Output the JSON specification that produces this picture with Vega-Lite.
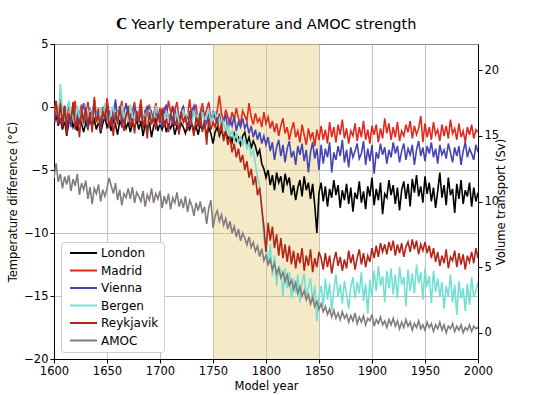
{
"$schema": "https://vega.github.io/schema/vega-lite/v6.json",
"width": 424, "height": 315,
"autosize": "none",
"padding": {"left": 54, "top": 44, "right": 55, "bottom": 36},
"config": {
 "font": "DejaVu Sans",
 "view": {"stroke": "black", "strokeWidth": 1},
 "axis": {"labelFont": "DejaVu Sans", "titleFont": "DejaVu Sans", "labelFontSize": 11.5, "titleFontSize": 11.5, "titleFontWeight": "normal", "labelColor": "black", "titleColor": "black", "tickColor": "black", "domainColor": "black", "tickSize": 4, "gridColor": "#b0b0b0", "gridWidth": 0.8, "labelPadding": 2, "labelFlush": false},
 "legend": {"labelFont": "DejaVu Sans", "labelFontSize": 12, "labelColor": "black"}
},
"title": {"text": "𝗖 Yearly temperature and AMOC strength", "fontSize": 14.5, "fontWeight": "normal", "anchor": "middle", "offset": 6, "color": "black", "font": "DejaVu Sans"},
"data": {"values": [
{"yr":1600,"L":-1.4,"M":-0.3,"V":-1.2,"B":-0.5,"R":-0.8,"A":11.8},
{"yr":1602,"L":-0.6,"M":0.4,"V":-0.4,"B":0.2,"R":0.5,"A":12.9},
{"yr":1604,"L":-1.5,"M":-1.0,"V":-0.2,"B":-1.2,"R":-1.4,"A":11.5},
{"yr":1606,"L":-0.9,"M":0.6,"V":-1.3,"B":1.8,"R":0.3,"A":12.1},
{"yr":1608,"L":-1.8,"M":-1.4,"V":-0.6,"B":-0.4,"R":-1.6,"A":11.0},
{"yr":1610,"L":-1.0,"M":-0.2,"V":0.1,"B":-1.0,"R":0.1,"A":11.9},
{"yr":1612,"L":-2.3,"M":-0.9,"V":-1.5,"B":-0.3,"R":-2.2,"A":11.3},
{"yr":1614,"L":-1.2,"M":0.3,"V":-0.7,"B":0.5,"R":-0.5,"A":12.0},
{"yr":1616,"L":-0.7,"M":-1.2,"V":-1.6,"B":-1.1,"R":-1.1,"A":10.8},
{"yr":1618,"L":-1.6,"M":-0.5,"V":0.2,"B":-0.6,"R":0.4,"A":11.7},
{"yr":1620,"L":-1.1,"M":0.5,"V":-0.9,"B":-1.4,"R":-1.8,"A":11.2},
{"yr":1622,"L":-1.9,"M":-1.5,"V":-0.3,"B":0.1,"R":-0.7,"A":12.1},
{"yr":1624,"L":-0.8,"M":-0.6,"V":-1.4,"B":-0.9,"R":-2.4,"A":10.5},
{"yr":1626,"L":-1.3,"M":0.2,"V":-0.5,"B":-0.2,"R":-0.2,"A":11.4},
{"yr":1628,"L":-2.0,"M":-1.1,"V":0.3,"B":-1.5,"R":-1.3,"A":10.9},
{"yr":1630,"L":-1.2,"M":-0.4,"V":-1.0,"B":0.2,"R":0.0,"A":11.6},
{"yr":1632,"L":-1.7,"M":0.4,"V":-1.7,"B":-0.8,"R":-1.5,"A":10.2},
{"yr":1634,"L":-0.9,"M":-0.8,"V":-0.1,"B":-0.3,"R":-0.4,"A":11.1},
{"yr":1636,"L":-1.5,"M":-1.6,"V":-0.8,"B":-1.2,"R":-2.0,"A":9.8},
{"yr":1638,"L":-1.0,"M":0.8,"V":0.5,"B":0.4,"R":0.6,"A":11.0},
{"yr":1640,"L":-1.8,"M":-0.7,"V":-1.2,"B":-0.7,"R":-1.2,"A":10.6},
{"yr":1642,"L":-1.1,"M":-0.1,"V":-0.4,"B":-1.3,"R":-0.6,"A":11.3},
{"yr":1644,"L":-2.1,"M":-1.3,"V":-1.8,"B":-0.1,"R":-1.9,"A":10.0},
{"yr":1646,"L":-1.3,"M":0.0,"V":-0.6,"B":-0.9,"R":-0.3,"A":10.9},
{"yr":1648,"L":-0.8,"M":-0.9,"V":0.2,"B":0.3,"R":-1.0,"A":10.4},
{"yr":1650,"L":-1.6,"M":0.7,"V":-1.1,"B":-0.6,"R":0.2,"A":11.0},
{"yr":1652,"L":-1.2,"M":-0.5,"V":-0.3,"B":-1.4,"R":-1.7,"A":11.8},
{"yr":1654,"L":-1.9,"M":-1.2,"V":-1.5,"B":-0.2,"R":-0.8,"A":11.2},
{"yr":1656,"L":-1.0,"M":-0.2,"V":-0.8,"B":0.0,"R":-2.3,"A":10.6},
{"yr":1658,"L":-1.4,"M":0.3,"V":0.6,"B":-1.1,"R":-0.4,"A":11.4},
{"yr":1660,"L":-2.2,"M":-1.0,"V":-0.9,"B":-0.5,"R":-1.4,"A":10.1},
{"yr":1662,"L":-1.1,"M":-0.4,"V":-0.2,"B":-1.0,"R":0.1,"A":10.9},
{"yr":1664,"L":-1.5,"M":0.5,"V":-1.6,"B":0.1,"R":-1.1,"A":9.7},
{"yr":1666,"L":-0.9,"M":-1.3,"V":-0.4,"B":-0.8,"R":-1.9,"A":10.6},
{"yr":1668,"L":-1.7,"M":-0.6,"V":0.3,"B":-0.4,"R":-0.6,"A":10.3},
{"yr":1670,"L":-1.2,"M":0.1,"V":-1.0,"B":-1.2,"R":-0.2,"A":11.0},
{"yr":1672,"L":-2.0,"M":-0.8,"V":-0.7,"B":0.2,"R":-1.6,"A":10.2},
{"yr":1674,"L":-1.3,"M":-0.3,"V":-1.4,"B":-0.7,"R":-0.9,"A":11.1},
{"yr":1676,"L":-1.6,"M":0.4,"V":0.0,"B":-1.0,"R":-2.1,"A":9.9},
{"yr":1678,"L":-1.0,"M":-1.1,"V":-0.6,"B":-0.3,"R":-0.3,"A":10.7},
{"yr":1680,"L":-1.8,"M":-0.5,"V":-1.2,"B":-0.9,"R":-1.2,"A":10.4},
{"yr":1682,"L":-1.1,"M":0.6,"V":-0.3,"B":0.0,"R":0.2,"A":10.0},
{"yr":1684,"L":-2.3,"M":-1.4,"V":-1.7,"B":-1.3,"R":-1.7,"A":10.8},
{"yr":1686,"L":-1.4,"M":-0.2,"V":-0.5,"B":-0.6,"R":-0.7,"A":9.6},
{"yr":1688,"L":-1.7,"M":-0.9,"V":0.1,"B":-1.1,"R":-2.5,"A":10.5},
{"yr":1690,"L":-1.2,"M":0.2,"V":-0.9,"B":-0.2,"R":-0.4,"A":10.1},
{"yr":1692,"L":-2.4,"M":-1.2,"V":-0.4,"B":-0.8,"R":-1.4,"A":11.0},
{"yr":1694,"L":-1.5,"M":-0.6,"V":-1.3,"B":-1.2,"R":-0.8,"A":9.9},
{"yr":1696,"L":-1.0,"M":0.3,"V":-0.2,"B":0.1,"R":-1.8,"A":10.6},
{"yr":1698,"L":-1.9,"M":-0.7,"V":-1.0,"B":-0.7,"R":-0.5,"A":10.2},
{"yr":1700,"L":-1.3,"M":-0.1,"V":-0.6,"B":-1.4,"R":-1.3,"A":10.8},
{"yr":1702,"L":-1.8,"M":-1.3,"V":-1.6,"B":-0.5,"R":-0.1,"A":9.5},
{"yr":1704,"L":-1.1,"M":0.0,"V":-0.3,"B":-0.9,"R":-1.6,"A":10.4},
{"yr":1706,"L":-2.0,"M":-0.8,"V":0.2,"B":-0.3,"R":-0.9,"A":9.8},
{"yr":1708,"L":-1.4,"M":0.5,"V":-1.1,"B":-1.1,"R":-2.0,"A":10.6},
{"yr":1710,"L":-1.7,"M":-0.4,"V":-0.5,"B":-0.6,"R":-0.6,"A":9.4},
{"yr":1712,"L":-1.2,"M":-1.1,"V":-1.4,"B":0.0,"R":0.1,"A":10.3},
{"yr":1714,"L":-2.2,"M":-0.2,"V":-0.2,"B":-1.0,"R":-1.5,"A":9.9},
{"yr":1716,"L":-1.5,"M":0.4,"V":-0.9,"B":-0.4,"R":-1.0,"A":10.7},
{"yr":1718,"L":-1.9,"M":-1.0,"V":-1.7,"B":-1.3,"R":-2.2,"A":9.6},
{"yr":1720,"L":-1.3,"M":-0.5,"V":-0.4,"B":-0.8,"R":-0.4,"A":10.2},
{"yr":1722,"L":-1.6,"M":0.1,"V":0.0,"B":-0.2,"R":-1.2,"A":9.5},
{"yr":1724,"L":-2.1,"M":-1.2,"V":-1.2,"B":-1.1,"R":-0.7,"A":10.4},
{"yr":1726,"L":-1.4,"M":-0.6,"V":-0.6,"B":-0.5,"R":-1.9,"A":9.2},
{"yr":1728,"L":-1.8,"M":0.6,"V":-1.5,"B":-0.9,"R":-0.3,"A":10.1},
{"yr":1730,"L":-1.2,"M":-0.9,"V":-0.3,"B":-1.4,"R":-1.4,"A":9.7},
{"yr":1732,"L":-2.0,"M":-0.3,"V":0.1,"B":-0.3,"R":-2.3,"A":8.9},
{"yr":1734,"L":-1.5,"M":0.2,"V":-1.0,"B":-1.0,"R":-0.8,"A":9.9},
{"yr":1736,"L":-2.2,"M":-1.3,"V":-0.7,"B":-0.6,"R":-1.6,"A":9.3},
{"yr":1738,"L":-1.4,"M":-0.4,"V":-1.6,"B":-1.2,"R":-0.5,"A":10.0},
{"yr":1740,"L":-1.8,"M":0.3,"V":-0.2,"B":-0.4,"R":-2.0,"A":9.1},
{"yr":1742,"L":-1.3,"M":-0.8,"V":-0.9,"B":-1.1,"R":-1.0,"A":9.6},
{"yr":1744,"L":-2.3,"M":-0.2,"V":-1.3,"B":-0.7,"R":-3.0,"A":8.3},
{"yr":1746,"L":-1.6,"M":0.4,"V":-0.5,"B":-0.2,"R":-0.9,"A":9.5},
{"yr":1748,"L":-2.1,"M":-1.0,"V":-1.1,"B":-1.3,"R":-1.8,"A":10.1},
{"yr":1750,"L":-2.9,"M":-0.6,"V":-0.4,"B":-0.5,"R":-1.2,"A":8.0},
{"yr":1752,"L":-2.0,"M":-0.9,"V":-0.8,"B":-0.4,"R":-1.6,"A":8.9},
{"yr":1754,"L":-1.6,"M":-0.3,"V":-1.4,"B":-1.3,"R":-0.8,"A":9.3},
{"yr":1756,"L":-2.3,"M":0.9,"V":-0.5,"B":-0.9,"R":-2.2,"A":8.5},
{"yr":1758,"L":-1.8,"M":-0.5,"V":-1.6,"B":-1.7,"R":-1.3,"A":9.0},
{"yr":1760,"L":-2.5,"M":-1.2,"V":-1.1,"B":-1.2,"R":-2.7,"A":8.2},
{"yr":1762,"L":-1.9,"M":-0.2,"V":-0.6,"B":-2.0,"R":-1.9,"A":8.7},
{"yr":1764,"L":-2.6,"M":-0.8,"V":-1.8,"B":-1.5,"R":-3.0,"A":7.9},
{"yr":1766,"L":-2.2,"M":-1.4,"V":-1.0,"B":-2.3,"R":-2.4,"A":8.5},
{"yr":1768,"L":-2.8,"M":-0.4,"V":-1.5,"B":-1.9,"R":-3.6,"A":7.6},
{"yr":1770,"L":-2.1,"M":-1.0,"V":-0.7,"B":-2.6,"R":-2.9,"A":8.1},
{"yr":1772,"L":-2.7,"M":-0.1,"V":-1.9,"B":-2.1,"R":-4.0,"A":7.3},
{"yr":1774,"L":-2.4,"M":-0.9,"V":-1.2,"B":-2.8,"R":-3.3,"A":7.9},
{"yr":1776,"L":-3.0,"M":-1.3,"V":-1.6,"B":-2.4,"R":-4.4,"A":7.0},
{"yr":1778,"L":-2.3,"M":-0.3,"V":-0.9,"B":-3.0,"R":-3.8,"A":7.6},
{"yr":1780,"L":-2.0,"M":-0.7,"V":-1.7,"B":-2.6,"R":-5.0,"A":7.2},
{"yr":1782,"L":-2.9,"M":-1.1,"V":-1.3,"B":-3.3,"R":-4.3,"A":6.7},
{"yr":1784,"L":-2.4,"M":0.3,"V":-2.1,"B":-2.9,"R":-5.6,"A":7.3},
{"yr":1786,"L":-3.3,"M":-0.8,"V":-1.5,"B":-3.8,"R":-4.9,"A":6.5},
{"yr":1788,"L":-2.7,"M":-1.4,"V":-2.4,"B":-3.4,"R":-6.2,"A":6.9},
{"yr":1790,"L":-3.1,"M":-0.5,"V":-1.8,"B":-4.5,"R":-5.5,"A":6.2},
{"yr":1792,"L":-3.8,"M":-1.2,"V":-2.6,"B":-5.6,"R":-7.0,"A":6.6},
{"yr":1794,"L":-3.4,"M":-0.9,"V":-2.0,"B":-6.2,"R":-6.4,"A":5.8},
{"yr":1796,"L":-4.5,"M":-1.6,"V":-2.9,"B":-8.0,"R":-8.0,"A":6.4},
{"yr":1798,"L":-4.9,"M":-0.4,"V":-2.3,"B":-10.5,"R":-9.5,"A":5.5},
{"yr":1800,"L":-5.6,"M":-1.3,"V":-3.0,"B":-11.2,"R":-11.5,"A":5.9},
{"yr":1802,"L":-5.0,"M":-0.8,"V":-2.4,"B":-12.5,"R":-9.2,"A":5.2},
{"yr":1804,"L":-6.2,"M":-1.7,"V":-3.5,"B":-10.9,"R":-10.6,"A":5.6},
{"yr":1806,"L":-5.4,"M":-1.1,"V":-2.8,"B":-13.4,"R":-9.5,"A":4.8},
{"yr":1808,"L":-6.6,"M":-2.0,"V":-4.2,"B":-11.8,"R":-11.2,"A":5.3},
{"yr":1810,"L":-5.2,"M":-1.3,"V":-3.2,"B":-14.2,"R":-10.1,"A":4.5},
{"yr":1812,"L":-6.0,"M":-2.3,"V":-2.6,"B":-12.6,"R":-11.8,"A":4.9},
{"yr":1814,"L":-5.5,"M":-1.5,"V":-3.9,"B":-13.0,"R":-10.4,"A":4.2},
{"yr":1816,"L":-6.8,"M":-0.9,"V":-3.0,"B":-15.0,"R":-12.0,"A":4.6},
{"yr":1818,"L":-5.3,"M":-2.1,"V":-4.4,"B":-12.8,"R":-10.9,"A":3.9},
{"yr":1820,"L":-6.1,"M":-1.6,"V":-3.3,"B":-14.4,"R":-12.3,"A":4.4},
{"yr":1822,"L":-5.6,"M":-2.6,"V":-2.7,"B":-13.1,"R":-11.0,"A":3.6},
{"yr":1824,"L":-7.0,"M":-1.8,"V":-4.0,"B":-15.2,"R":-12.5,"A":4.0},
{"yr":1826,"L":-6.2,"M":-1.2,"V":-3.5,"B":-13.6,"R":-11.4,"A":3.3},
{"yr":1828,"L":-7.4,"M":-2.4,"V":-4.6,"B":-14.8,"R":-12.8,"A":3.8},
{"yr":1830,"L":-6.4,"M":-1.9,"V":-3.1,"B":-13.3,"R":-11.6,"A":3.0},
{"yr":1832,"L":-5.8,"M":-2.8,"V":-3.8,"B":-15.5,"R":-12.4,"A":3.5},
{"yr":1834,"L":-7.1,"M":-1.4,"V":-2.9,"B":-14.0,"R":-11.2,"A":2.8},
{"yr":1836,"L":-5.5,"M":-2.2,"V":-4.3,"B":-13.2,"R":-13.0,"A":3.2},
{"yr":1838,"L":-6.6,"M":-3.0,"V":-3.4,"B":-15.1,"R":-11.8,"A":2.5},
{"yr":1840,"L":-6.0,"M":-1.7,"V":-5.2,"B":-14.3,"R":-12.6,"A":2.9},
{"yr":1842,"L":-7.3,"M":-2.5,"V":-3.6,"B":-13.6,"R":-11.3,"A":2.2},
{"yr":1844,"L":-6.1,"M":-2.0,"V":-2.8,"B":-15.4,"R":-13.1,"A":2.7},
{"yr":1846,"L":-7.8,"M":-3.1,"V":-4.1,"B":-14.2,"R":-12.0,"A":2.0},
{"yr":1848,"L":-10.0,"M":-1.8,"V":-3.3,"B":-17.0,"R":-12.7,"A":2.4},
{"yr":1850,"L":-6.8,"M":-2.6,"V":-5.0,"B":-15.0,"R":-11.5,"A":1.8},
{"yr":1852,"L":-6.0,"M":-1.5,"V":-3.0,"B":-14.2,"R":-12.0,"A":2.2},
{"yr":1854,"L":-7.5,"M":-2.6,"V":-4.5,"B":-15.8,"R":-12.9,"A":1.6},
{"yr":1856,"L":-6.3,"M":-1.8,"V":-3.3,"B":-13.6,"R":-11.6,"A":2.0},
{"yr":1858,"L":-7.9,"M":-2.9,"V":-4.0,"B":-15.3,"R":-12.7,"A":1.4},
{"yr":1860,"L":-6.5,"M":-1.2,"V":-2.8,"B":-14.0,"R":-11.8,"A":1.8},
{"yr":1862,"L":-7.2,"M":-2.4,"V":-5.2,"B":-16.2,"R":-13.2,"A":1.2},
{"yr":1864,"L":-5.8,"M":-1.6,"V":-3.6,"B":-14.5,"R":-12.2,"A":1.7},
{"yr":1866,"L":-7.0,"M":-2.8,"V":-4.2,"B":-13.3,"R":-11.5,"A":1.1},
{"yr":1868,"L":-6.2,"M":-1.4,"V":-3.1,"B":-15.0,"R":-12.6,"A":1.5},
{"yr":1870,"L":-8.0,"M":-2.2,"V":-3.9,"B":-14.1,"R":-11.9,"A":1.0},
{"yr":1872,"L":-6.6,"M":-1.0,"V":-2.6,"B":-15.6,"R":-13.0,"A":1.6},
{"yr":1874,"L":-7.4,"M":-2.5,"V":-4.4,"B":-13.8,"R":-12.1,"A":1.1},
{"yr":1876,"L":-6.1,"M":-1.7,"V":-3.4,"B":-14.9,"R":-12.8,"A":1.4},
{"yr":1878,"L":-7.7,"M":-2.9,"V":-4.8,"B":-16.0,"R":-11.4,"A":0.8},
{"yr":1880,"L":-6.4,"M":-1.9,"V":-3.2,"B":-14.3,"R":-12.4,"A":1.3},
{"yr":1882,"L":-8.3,"M":-2.3,"V":-4.0,"B":-13.5,"R":-11.7,"A":0.9},
{"yr":1884,"L":-6.8,"M":-1.3,"V":-3.5,"B":-15.2,"R":-12.9,"A":1.5},
{"yr":1886,"L":-7.3,"M":-2.7,"V":-2.9,"B":-13.9,"R":-12.0,"A":0.7},
{"yr":1888,"L":-5.9,"M":-1.6,"V":-4.1,"B":-14.8,"R":-11.3,"A":1.2},
{"yr":1890,"L":-7.6,"M":-2.4,"V":-3.7,"B":-13.1,"R":-12.5,"A":0.8},
{"yr":1892,"L":-6.7,"M":-1.1,"V":-2.7,"B":-15.4,"R":-11.6,"A":1.3},
{"yr":1894,"L":-8.1,"M":-2.6,"V":-4.6,"B":-14.0,"R":-12.7,"A":0.6},
{"yr":1896,"L":-6.3,"M":-1.8,"V":-3.3,"B":-16.4,"R":-11.8,"A":1.1},
{"yr":1898,"L":-7.1,"M":-2.9,"V":-4.3,"B":-13.7,"R":-12.3,"A":0.9},
{"yr":1900,"L":-5.6,"M":-1.5,"V":-3.0,"B":-15.1,"R":-11.2,"A":1.4},
{"yr":1902,"L":-7.8,"M":-2.2,"V":-5.3,"B":-13.0,"R":-12.0,"A":0.5},
{"yr":1904,"L":-6.5,"M":-1.4,"V":-3.6,"B":-14.6,"R":-11.0,"A":1.0},
{"yr":1906,"L":-7.4,"M":-2.8,"V":-4.1,"B":-12.6,"R":-11.9,"A":0.7},
{"yr":1908,"L":-6.0,"M":-1.7,"V":-2.9,"B":-14.2,"R":-10.8,"A":1.2},
{"yr":1910,"L":-8.5,"M":-2.5,"V":-3.8,"B":-13.4,"R":-11.5,"A":0.6},
{"yr":1912,"L":-6.9,"M":-0.9,"V":-3.2,"B":-15.5,"R":-10.9,"A":0.9},
{"yr":1914,"L":-7.2,"M":-2.1,"V":-4.5,"B":-13.0,"R":-11.7,"A":0.4},
{"yr":1916,"L":-5.8,"M":-1.3,"V":-3.4,"B":-14.4,"R":-10.7,"A":1.0},
{"yr":1918,"L":-7.0,"M":-2.6,"V":-4.0,"B":-12.8,"R":-11.4,"A":0.6},
{"yr":1920,"L":-6.2,"M":-1.6,"V":-2.8,"B":-14.9,"R":-10.6,"A":1.1},
{"yr":1922,"L":-7.7,"M":-2.4,"V":-3.7,"B":-13.3,"R":-11.8,"A":0.5},
{"yr":1924,"L":-6.4,"M":-1.2,"V":-3.1,"B":-15.2,"R":-10.9,"A":0.9},
{"yr":1926,"L":-8.2,"M":-2.7,"V":-4.4,"B":-12.7,"R":-11.6,"A":0.3},
{"yr":1928,"L":-6.6,"M":-1.9,"V":-3.5,"B":-14.1,"R":-10.8,"A":0.8},
{"yr":1930,"L":-5.9,"M":-2.3,"V":-2.9,"B":-13.5,"R":-11.9,"A":0.4},
{"yr":1932,"L":-7.3,"M":-1.4,"V":-4.2,"B":-15.8,"R":-11.1,"A":1.0},
{"yr":1934,"L":-6.1,"M":-2.0,"V":-3.3,"B":-12.9,"R":-10.7,"A":0.5},
{"yr":1936,"L":-7.9,"M":-1.1,"V":-3.8,"B":-14.6,"R":-11.5,"A":0.8},
{"yr":1938,"L":-5.7,"M":-2.5,"V":-3.0,"B":-13.2,"R":-10.5,"A":0.2},
{"yr":1940,"L":-6.8,"M":-1.5,"V":-4.6,"B":-14.8,"R":-11.3,"A":0.7},
{"yr":1942,"L":-5.4,"M":-2.2,"V":-3.4,"B":-12.5,"R":-10.6,"A":0.4},
{"yr":1944,"L":-7.1,"M":-1.7,"V":-2.7,"B":-14.0,"R":-11.7,"A":0.9},
{"yr":1946,"L":-6.3,"M":-0.7,"V":-3.9,"B":-13.1,"R":-10.9,"A":0.3},
{"yr":1948,"L":-7.6,"M":-2.8,"V":-3.2,"B":-15.3,"R":-11.4,"A":0.6},
{"yr":1950,"L":-5.5,"M":-1.3,"V":-4.3,"B":-12.8,"R":-10.7,"A":0.2},
{"yr":1952,"L":-6.9,"M":-2.4,"V":-3.1,"B":-14.3,"R":-11.6,"A":0.8},
{"yr":1954,"L":-6.0,"M":-1.6,"V":-3.7,"B":-13.4,"R":-11.0,"A":0.4},
{"yr":1956,"L":-7.5,"M":-2.6,"V":-2.8,"B":-15.6,"R":-12.0,"A":0.7},
{"yr":1958,"L":-6.4,"M":-1.2,"V":-4.0,"B":-13.0,"R":-11.2,"A":0.1},
{"yr":1960,"L":-8.0,"M":-2.2,"V":-3.3,"B":-14.7,"R":-12.3,"A":0.6},
{"yr":1962,"L":-6.7,"M":-1.8,"V":-4.5,"B":-13.6,"R":-11.5,"A":0.3},
{"yr":1964,"L":-5.2,"M":-2.7,"V":-3.0,"B":-15.1,"R":-12.6,"A":0.8},
{"yr":1966,"L":-7.2,"M":-1.4,"V":-3.8,"B":-13.9,"R":-11.8,"A":0.2},
{"yr":1968,"L":-6.2,"M":-2.3,"V":-3.4,"B":-16.0,"R":-12.4,"A":0.6},
{"yr":1970,"L":-7.8,"M":-1.5,"V":-4.1,"B":-14.2,"R":-11.3,"A":0.0},
{"yr":1972,"L":-5.6,"M":-2.5,"V":-2.9,"B":-15.0,"R":-12.8,"A":0.5},
{"yr":1974,"L":-7.0,"M":-1.0,"V":-3.6,"B":-13.3,"R":-11.9,"A":0.3},
{"yr":1976,"L":-6.5,"M":-2.1,"V":-4.4,"B":-15.5,"R":-12.2,"A":0.7},
{"yr":1978,"L":-8.4,"M":-1.7,"V":-3.2,"B":-14.1,"R":-11.4,"A":0.1},
{"yr":1980,"L":-6.1,"M":-2.6,"V":-3.9,"B":-16.5,"R":-12.7,"A":0.5},
{"yr":1982,"L":-7.3,"M":-1.3,"V":-3.1,"B":-13.8,"R":-11.6,"A":0.2},
{"yr":1984,"L":-5.8,"M":-2.4,"V":-4.6,"B":-15.2,"R":-12.5,"A":0.6},
{"yr":1986,"L":-7.7,"M":-1.9,"V":-3.5,"B":-14.4,"R":-11.7,"A":0.0},
{"yr":1988,"L":-6.6,"M":-2.8,"V":-2.8,"B":-16.2,"R":-12.9,"A":0.4},
{"yr":1990,"L":-7.1,"M":-1.6,"V":-4.0,"B":-14.0,"R":-11.8,"A":0.2},
{"yr":1992,"L":-6.0,"M":-2.2,"V":-3.3,"B":-15.7,"R":-12.3,"A":0.6},
{"yr":1994,"L":-7.9,"M":-1.4,"V":-3.7,"B":-13.5,"R":-11.5,"A":0.1},
{"yr":1996,"L":-6.4,"M":-2.5,"V":-4.2,"B":-15.1,"R":-12.4,"A":0.5},
{"yr":1998,"L":-7.5,"M":-1.8,"V":-3.0,"B":-14.6,"R":-11.2,"A":0.3},
{"yr":2000,"L":-6.8,"M":-2.0,"V":-3.6,"B":-13.9,"R":-12.0,"A":0.4}
]},
"layer": [
 {
  "data": {"values": [{"yr": 1750, "yr2": 1850}]},
  "mark": {"type": "rect", "color": "#e6c86e", "opacity": 0.38},
  "encoding": {
   "x": {"field": "yr", "type": "quantitative", "scale": {"domain": [1600, 2000], "nice": false}, "axis": {"title": "Model year", "values": [1600,1650,1700,1750,1800,1850,1900,1950,2000], "format": "d", "grid": true, "titlePadding": 4}},
   "x2": {"field": "yr2"}
  }
 },
 {
  "transform": [{"fold": ["L","M","V","B","R"], "as": ["key","value"]}],
  "mark": {"type": "line", "strokeWidth": 1.6, "clip": true},
  "encoding": {
   "x": {"field": "yr", "type": "quantitative", "scale": {"domain": [1600, 2000], "nice": false}, "axis": {"title": "Model year", "values": [1600,1650,1700,1750,1800,1850,1900,1950,2000], "format": "d", "grid": true, "titlePadding": 4}},
   "y": {"field": "value", "type": "quantitative", "scale": {"domain": [-20, 5], "nice": false}, "axis": {"title": "Temperature difference (°C)", "values": [-20,-15,-10,-5,0,5], "grid": true, "labelExpr": "replace(datum.label, '-', '−')", "titlePadding": 5}},
   "color": {"field": "key", "type": "nominal", "scale": {"domain": ["L","M","V","B","R","A"], "range": ["#000000","#e3281c","#4444b4","#74e0d4","#b42418","#827c7c"]},
    "legend": {"title": null, "orient": "bottom-left", "offset": 7, "symbolType": "M-0.5,0H6.25", "symbolSize": 64, "symbolStrokeWidth": 2, "fillColor": "white", "strokeColor": "#cccccc", "cornerRadius": 3, "padding": 5, "rowPadding": 5.5, "labelOffset": 23,
     "labelExpr": "datum.label=='L'?'London':datum.label=='M'?'Madrid':datum.label=='V'?'Vienna':datum.label=='B'?'Bergen':datum.label=='R'?'Reykjavik':'AMOC'"}}
  }
 },
 {
  "transform": [{"fold": ["A"], "as": ["key","value"]}],
  "mark": {"type": "line", "strokeWidth": 1.6, "clip": true},
  "encoding": {
   "x": {"field": "yr", "type": "quantitative", "scale": {"domain": [1600, 2000], "nice": false}},
   "y": {"field": "value", "type": "quantitative", "scale": {"domain": [-2, 22], "nice": false}, "axis": {"orient": "right", "title": "Volume transport (Sv)", "values": [0,5,10,15,20], "grid": false, "titleAngle": 270, "titlePadding": 8}},
   "color": {"field": "key", "type": "nominal"}
  }
 }
],
"resolve": {"scale": {"y": "independent"}}
}
